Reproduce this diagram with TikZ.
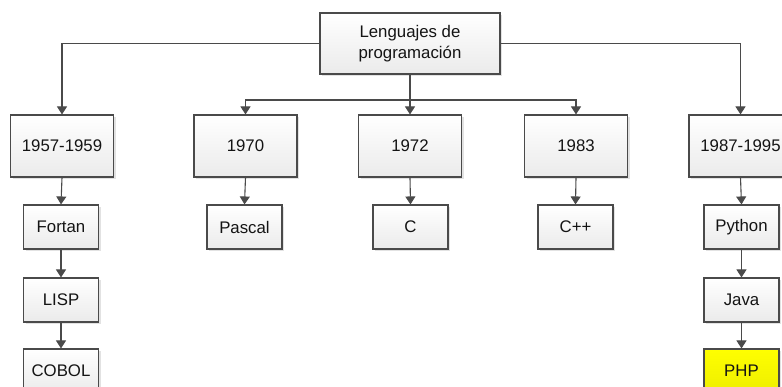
\documentclass[tikz,border=0pt]{standalone}
\usepackage{fontspec}
\setmainfont{Liberation Sans}
\usetikzlibrary{arrows.meta,shadows}
\definecolor{edgec}{HTML}{4A4A4A}
\definecolor{txtc}{HTML}{141414}
\tikzset{
  boxbase/.style={draw=edgec, line width=1.1pt, rectangle, align=center, text=txtc,
    font=\fontsize{16.8}{21.5}\selectfont, inner sep=0pt,
    top color=white, bottom color=gray!16,
    drop shadow={shadow xshift=2pt, shadow yshift=-2pt, fill=gray!45, opacity=0.5}},
  topbox/.style={boxbase, minimum width=180pt, minimum height=61pt},
  yearbox/.style={boxbase, minimum width=103pt, minimum height=62pt},
  langbox/.style={boxbase, minimum width=75pt, minimum height=44pt},
  phpbox/.style={langbox, top color={rgb,255:red,255;green,255;blue,0}, bottom color={rgb,255:red,238;green,238;blue,0}},
  conn/.style={draw=edgec, line width=1.1pt, -{Triangle[width=10pt,length=8pt]}}
}
\begin{document}
\begin{tikzpicture}[x=1pt, y=-1pt]
\useasboundingbox (0,0) rectangle (782,387);
\clip (0,0) rectangle (782,387);
\fill[white] (0,0) rectangle (782,387);

\node[topbox] (top) at (410,43.5) {Lenguajes de\\programación};

\node[yearbox] (y1) at (62,146) {1957-1959};
\node[yearbox] (y2) at (245.5,146) {1970};
\node[yearbox] (y3) at (410,146) {1972};
\node[yearbox] (y4) at (576,146) {1983};
\node[yearbox] (y5) at (740.5,146) {1987-1995};

\node[langbox] (fortran) at (61,227) {Fortan};
\node[langbox] (lisp) at (61,300) {LISP};
\node[langbox] (cobol) at (61,371) {COBOL};
\node[langbox] (pascal) at (244.5,227) {Pascal};
\node[langbox] (c) at (410.5,227) {C};
\node[langbox] (cpp) at (575.5,227) {C++};
\node[langbox] (python) at (741.5,227) {Python};
\node[langbox] (java) at (741.5,300) {Java};
\node[phpbox] (php) at (741.5,371) {PHP};

\coordinate (mid) at (410,100);

\draw[conn] (top.west) -| (y1.north);
\draw[conn] (top.east) -| (y5.north);
\draw[conn] (top.south) -- (y3.north);
\draw[conn] (mid) -| (y2.north);
\draw[conn] (mid) -| (y4.north);

\draw[conn] (y1.south) -- (fortran.north);
\draw[conn] (fortran.south) -- (lisp.north);
\draw[conn] (lisp.south) -- (cobol.north);
\draw[conn] (y2.south) -- (pascal.north);
\draw[conn] (y3.south) -- (c.north);
\draw[conn] (y4.south) -- (cpp.north);
\draw[conn] (y5.south) -- (python.north);
\draw[conn] (python.south) -- (java.north);
\draw[conn] (java.south) -- (php.north);
\end{tikzpicture}
\end{document}
